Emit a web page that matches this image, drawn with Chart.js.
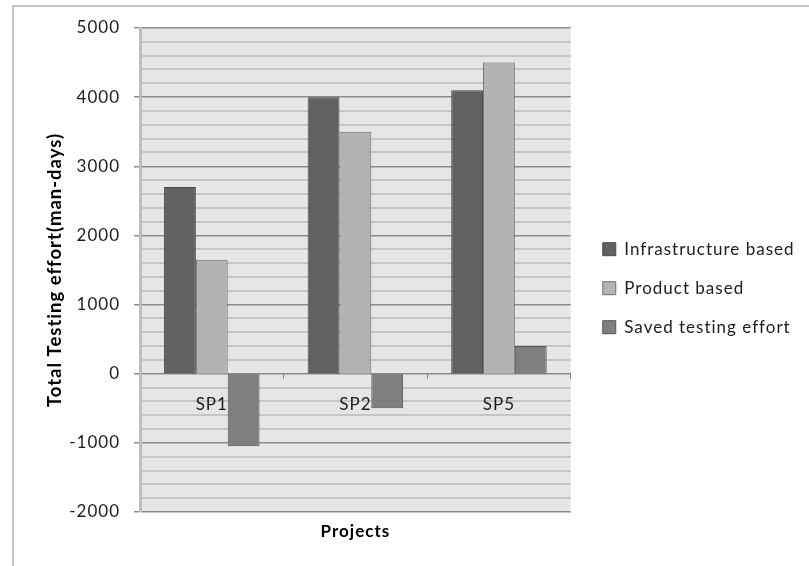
<!DOCTYPE html>
<html>
<head>
<meta charset="utf-8">
<script src="https://cdn.jsdelivr.net/npm/chart.js@4/dist/chart.umd.min.js"></script>
<style>
  html, body { margin: 0; padding: 0; background: #ffffff; }
  #frame { position: absolute; left: 12px; top: 5px; width: 820px; height: 600px;
           border-left: 2px solid #c4c4c4; border-top: 2px solid #c4c4c4; }
  #c { position: absolute; left: 0; top: 0; }
</style>
</head>
<body>
<div id="frame"></div>
<canvas id="c" width="809" height="566"></canvas>
<script>
// Testing effort per project, in man-days
const projects = ['SP1', 'SP2', 'SP5'];
const infrastructureBased = [2700, 4000, 4100];
const productBased = [1650, 3500, 4500];
const savedTestingEffort = [-1050, -500, 400];

const yMin = -2000;
const yMax = 5000;
const yMinorStep = 200;
const yMajorStep = 1000;

const textColor = '#1c1c24';
const fontFamily = 'Lato, "Open Sans", sans-serif';

// Grey plot background behind the grid
const plotBackground = {
  id: 'plotBackground',
  beforeDraw(chart) {
    const { ctx, chartArea: a } = chart;
    ctx.save();
    ctx.fillStyle = '#e6e6e6';
    ctx.fillRect(a.left, a.top, a.right - a.left, a.bottom - a.top);
    ctx.restore();
  }
};

// Slightly tracked-out lettering for all chart text
const spacedText = {
  id: 'spacedText',
  afterInit(chart) { chart.ctx.letterSpacing = '1px'; },
  beforeUpdate(chart) { chart.ctx.letterSpacing = '1px'; },
  beforeDraw(chart) { chart.ctx.letterSpacing = '1px'; }
};

// Let the right-hand legend take the width its labels need
const wideLegend = {
  id: 'wideLegend',
  beforeLayout(chart) {
    const lg = chart.legend;
    if (lg && !lg.$wide) {
      const update = lg.update;
      lg.update = function (maxWidth, maxHeight, margins) {
        return update.call(this, Math.max(maxWidth, 300), maxHeight, margins);
      };
      lg.$wide = true;
    }
  }
};

const isMajor = (v) => Math.abs(v % yMajorStep) < 1e-6;

new Chart(document.getElementById('c'), {
  type: 'bar',
  data: {
    labels: projects,
    datasets: [
      { label: 'Infrastructure based', data: infrastructureBased,
        backgroundColor: '#616161', borderColor: '#4a4a4a', borderWidth: 1 },
      { label: 'Product based', data: productBased,
        backgroundColor: '#b3b3b3', borderColor: '#6e6e6e', borderWidth: 1 },
      { label: 'Saved testing effort', data: savedTestingEffort,
        backgroundColor: '#7f7f7f', borderColor: '#555555', borderWidth: 1 }
    ]
  },
  options: {
    responsive: false,
    animation: false,
    devicePixelRatio: 1,
    categoryPercentage: 0.665,
    barPercentage: 1.0,
    layout: { padding: { left: 40, top: 28, right: 4.5, bottom: 24.6 } },
    plugins: {
      tooltip: { enabled: false },
      legend: {
        position: 'right',
        title: { display: true, text: '', font: { size: 7, lineHeight: 1 }, padding: 0 },
        labels: {
          boxWidth: 13, boxHeight: 13, padding: 22,
          color: textColor,
          font: { family: fontFamily, size: 17 }
        }
      }
    },
    scales: {
      x: {
        axis: 'x',
        type: 'category',
        position: { y: 0 },
        grid: { drawOnChartArea: false, drawTicks: true, tickLength: 5, color: '#8c8c8c', offset: true },
        border: { color: '#8c8c8c', width: 1 },
        ticks: { color: textColor, padding: 16, font: { family: fontFamily, size: 17 } }
      },
      x2: {
        axis: 'x',
        type: 'category',
        position: 'bottom',
        labels: projects,
        grid: { display: false, drawTicks: false },
        border: { display: false },
        ticks: { display: false },
        title: { display: true, text: 'Projects', color: '#000000',
                 font: { family: fontFamily, size: 17, weight: 'bold' }, padding: { top: 9, bottom: 0 } }
      },
      // empty strip between the plot and the legend
      legendGap: {
        axis: 'y',
        type: 'linear',
        position: 'right',
        grid: { display: false, drawTicks: false },
        border: { display: false },
        ticks: { display: false },
        afterFit(scale) { scale.width = 10; }
      },
      y: {
        min: yMin,
        max: yMax,
        afterFit(scale) { scale.width = 100; },
        ticks: {
          stepSize: yMinorStep,
          autoSkip: false,
          padding: 14,
          color: textColor,
          font: { family: fontFamily, size: 17 },
          callback: (v) => (isMajor(v) ? String(v) : '')
        },
        grid: {
          color: (c) => (isMajor(c.tick.value) ? '#8c8c8c' : '#c6c6c6'),
          lineWidth: (c) => (isMajor(c.tick.value) ? 1.5 : 2),
          tickColor: (c) => (isMajor(c.tick.value) ? '#8c8c8c' : 'rgba(0,0,0,0)'),
          tickLength: 6
        },
        border: { color: '#bdbdbd', width: 3 },
        title: { display: true, text: 'Total Testing effort(man-days)', color: '#000000',
                 font: { family: fontFamily, size: 18.5, weight: 'bold' }, padding: { top: 4, bottom: 2 } }
      }
    }
  },
  plugins: [plotBackground, spacedText, wideLegend]
});
</script>
</body>
</html>
